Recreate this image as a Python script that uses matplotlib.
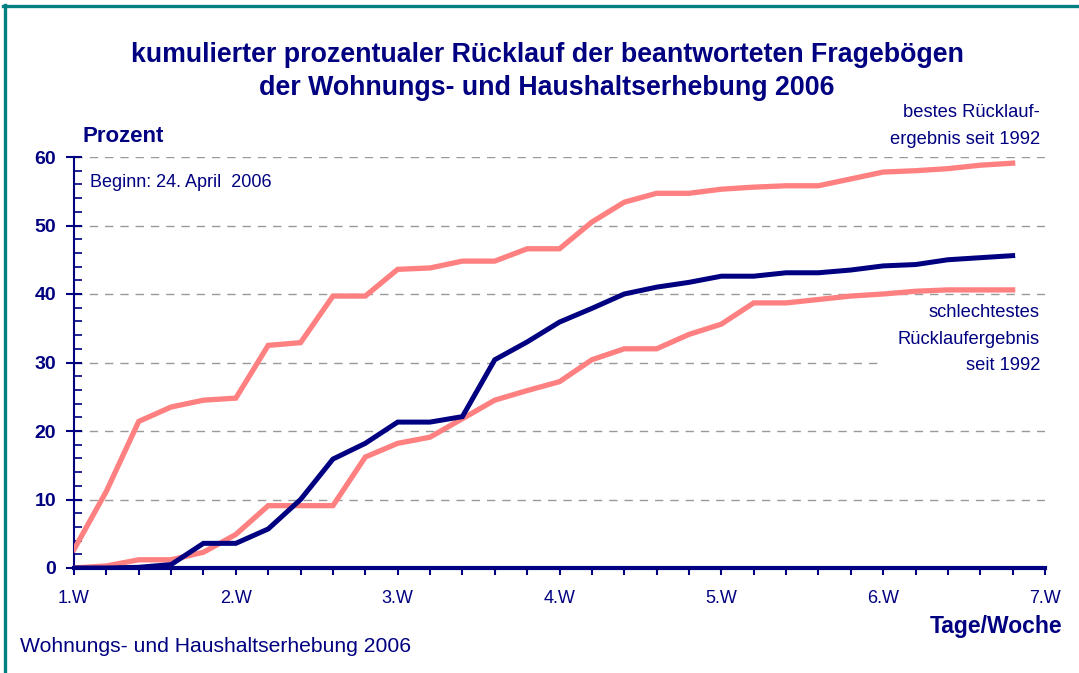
import matplotlib.pyplot as plt
from matplotlib.ticker import MultipleLocator

# Wochen (Messpunkte alle 0,2 Wochen)
wochen = [1.0, 1.2, 1.4, 1.6, 1.8, 2.0, 2.2, 2.4, 2.6, 2.8,
          3.0, 3.2, 3.4, 3.6, 3.8, 4.0, 4.2, 4.4, 4.6, 4.8,
          5.0, 5.2, 5.4, 5.6, 5.8, 6.0, 6.2, 6.4, 6.6, 6.8]

# bestes Ruecklaufergebnis seit 1992
bestes = [2.7, 11.2, 21.4, 23.5, 24.5, 24.8, 32.5, 32.9, 39.7, 39.7,
          43.6, 43.8, 44.8, 44.8, 46.6, 46.6, 50.5, 53.4, 54.7, 54.7,
          55.3, 55.6, 55.8, 55.8, 56.8, 57.8, 58.0, 58.3, 58.8, 59.1]

# schlechtestes Ruecklaufergebnis seit 1992
schlechtestes = [0.0, 0.3, 1.2, 1.2, 2.3, 4.9, 9.1, 9.1, 9.1, 16.2,
                 18.2, 19.1, 21.8, 24.5, 25.9, 27.2, 30.4, 32.0, 32.0, 34.1,
                 35.6, 38.7, 38.7, 39.2, 39.7, 40.0, 40.4, 40.6, 40.6, 40.6]

# Wohnungs- und Haushaltserhebung 2006
erhebung_2006 = [0.0, 0.0, 0.1, 0.5, 3.6, 3.6, 5.7, 10.0, 15.9, 18.2,
                 21.3, 21.3, 22.1, 30.4, 33.0, 35.9, 37.9, 40.0, 41.0, 41.7,
                 42.6, 42.6, 43.1, 43.1, 43.5, 44.1, 44.3, 45.0, 45.3, 45.6]

wochen_labels = ['1.W', '2.W', '3.W', '4.W', '5.W', '6.W', '7.W']

navy = '#000080'
rosa = '#FF8080'
teal = '#008080'

plt.rcParams['font.family'] = ['Liberation Sans', 'DejaVu Sans']

fig = plt.figure(figsize=(10.79, 6.73), dpi=100)
ax = fig.add_axes([74/1079, 1 - 568/673, (1045 - 74)/1079, (568 - 157)/673])

# Rahmen (nur oben und links sichtbar)
fig.add_artist(plt.Line2D([4.5/1079, 4.5/1079], [0, 1 - 4.5/673], color=teal, lw=2.4,
                          transform=fig.transFigure))
fig.add_artist(plt.Line2D([3/1079, 1], [1 - 5.5/673, 1 - 5.5/673], color=teal, lw=2.4,
                          transform=fig.transFigure))

# Gitterlinien
for g in [10, 20, 40, 50, 60]:
    ax.axhline(g, color='#999999', lw=1.0, dashes=(6, 5), zorder=1)
ax.plot([1.0, 5.98], [30, 30], color='#999999', lw=1.0, dashes=(6, 5), zorder=1)

ax.plot(wochen, bestes, color=rosa, lw=3.8, solid_joinstyle='miter', zorder=3)
ax.plot(wochen, schlechtestes, color=rosa, lw=3.8, solid_joinstyle='miter', zorder=3)
ax.plot(wochen, erhebung_2006, color=navy, lw=3.6, solid_joinstyle='miter', zorder=4)

ax.set_xlim(1, 7)
ax.set_ylim(0, 60)

for s in ['top', 'right']:
    ax.spines[s].set_visible(False)
ax.spines['left'].set_color(navy)
ax.spines['left'].set_linewidth(1.5)
ax.spines['bottom'].set_color(navy)
ax.spines['bottom'].set_linewidth(3)
ax.spines['bottom'].set_zorder(5)

ax.set_xticks([1, 2, 3, 4, 5, 6, 7])
ax.set_xticklabels(wochen_labels)
ax.xaxis.set_minor_locator(MultipleLocator(0.2))
ax.tick_params(axis='x', which='both', direction='out', length=5, width=1.5, color=navy)
ax.tick_params(axis='x', which='major', pad=11, labelsize=13, labelcolor=navy)

ax.set_yticks([0, 10, 20, 30, 40, 50, 60])
ax.yaxis.set_minor_locator(MultipleLocator(2))
ax.tick_params(axis='y', which='major', direction='inout', length=12, width=1.5, color=navy,
               pad=7, labelsize=14, labelcolor=navy)
ax.tick_params(axis='y', which='minor', direction='in', length=6, width=1.2, color=navy)
for lab in ax.get_yticklabels():
    lab.set_fontweight('bold')

fig.text(0.507, 1 - 55/673, 'kumulierter prozentualer Rücklauf der beantworteten Fragebögen',
         ha='center', va='center', fontsize=19.3, fontweight='bold', color=navy)
fig.text(0.507, 1 - 88/673, 'der Wohnungs- und Haushaltserhebung 2006',
         ha='center', va='center', fontsize=19.3, fontweight='bold', color=navy)

fig.text(82/1079, 1 - 136/673, 'Prozent', ha='left', va='center', fontsize=16,
         fontweight='bold', color=navy)
fig.text(1062/1079, 1 - 627/673, 'Tage/Woche', ha='right', va='center', fontsize=16.5,
         fontweight='bold', color=navy)
fig.text(20/1079, 1 - 647/673, 'Wohnungs- und Haushaltserhebung 2006', ha='left',
         va='center', fontsize=15.2, color=navy)
fig.text(90/1079, 1 - 183/673, 'Beginn: 24. April  2006', ha='left', va='center',
         fontsize=13, color=navy)

fig.text(1040/1079, 1 - 126/673, 'bestes Rücklauf-\nergebnis seit 1992', ha='right',
         va='center', fontsize=13.2, color=navy, linespacing=1.7)
fig.text(1040/1079, 1 - 339/673, 'schlechtestes\nRücklaufergebnis\nseit 1992', ha='right',
         va='center', fontsize=13.2, color=navy, linespacing=1.72)

fig.savefig('out.png', dpi=100)
